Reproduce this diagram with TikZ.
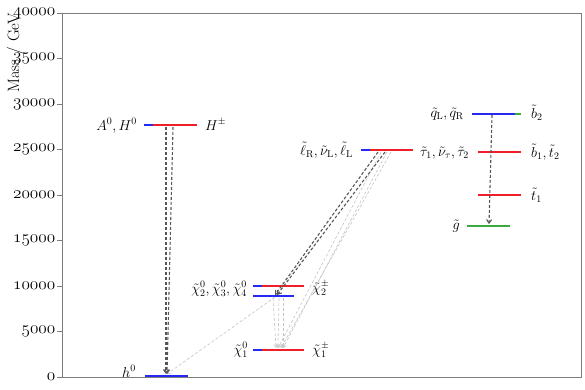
\documentclass[tikz,border=0pt]{standalone}
\usetikzlibrary{arrows.meta}
\definecolor{lvblue}{RGB}{40,40,245}
\definecolor{lvred}{RGB}{240,30,40}
\definecolor{lvgreen}{RGB}{60,170,60}
\definecolor{axgray}{RGB}{125,125,125}
\definecolor{darr}{RGB}{85,85,85}
\definecolor{larr}{RGB}{195,195,195}
\newcommand{\labfont}{\fontsize{14.5}{17}\selectfont}
\newcommand{\tk}[1]{{\fontencoding{OML}\fontfamily{cmm}\fontseries{m}\fontshape{it}\fontsize{17.28}{19}\selectfont #1}}
\begin{document}
\begin{tikzpicture}[x=1bp,y=-1bp,
  lev/.style={line width=1.4bp},
  bl/.style={lev,draw=lvblue}, rd/.style={lev,draw=lvred}, gr/.style={lev,draw=lvgreen},
  lab/.style={inner sep=0pt, font=\labfont},
  ticklab/.style={inner sep=0pt, anchor=east},
  tickmark/.style={draw=axgray, line width=0.8bp},
  darkarr/.style={draw=darr, line width=1.1bp, dash pattern=on 3bp off 2bp, -{Straight Barb[length=3.5bp,width=5bp]}},
  lightarr/.style={draw=larr, line width=0.6bp, dash pattern=on 3bp off 2bp, -{Straight Barb[length=3bp,width=4bp]}},
]
\useasboundingbox (0,0) rectangle (585,389);
% frame
\draw[axgray, line width=0.8bp] (62,13) -- (581,13) -- (581,377) -- (62,377) -- cycle;
\draw[tickmark] (57,377) -- (62,377);
\draw[tickmark] (57,331.5) -- (62,331.5);
\draw[tickmark] (57,286) -- (62,286);
\draw[tickmark] (57,240.5) -- (62,240.5);
\draw[tickmark] (57,195) -- (62,195);
\draw[tickmark] (57,149.5) -- (62,149.5);
\draw[tickmark] (57,104) -- (62,104);
\draw[tickmark] (57,58.5) -- (62,58.5);
\draw[tickmark] (57,13) -- (62,13);
\node[ticklab] (t0) at (55.5,377) {\tk{0}};
\node[ticklab] (t1) at (55.5,331.5) {\tk{5000}};
\node[ticklab] (t2) at (55.5,286) {\tk{10000}};
\node[ticklab] (t3) at (55.5,240.5) {\tk{15000}};
\node[ticklab] (t4) at (55.5,195) {\tk{20000}};
\node[ticklab] (t5) at (55.5,149.5) {\tk{25000}};
\node[ticklab] (t6) at (55.5,104) {\tk{30000}};
\node[ticklab] (t7) at (55.5,58.5) {\tk{35000}};
\node[ticklab] (t8) at (55.5,13) {\tk{40000}};
\node[inner sep=0pt, rotate=90, font=\fontsize{16.5}{18}\selectfont] (ylab) at (15,53) {Mass / GeV};

% ---- levels ----
% Higgs
\draw[bl] (144,125) coordinate (AHl) -- (188,125) coordinate (AHr);
\draw[rd] (153,125) coordinate (Hpl) -- (197,125) coordinate (Hpr);
\draw[bl] (145,376) coordinate (hl) -- (188,376) coordinate (hr);
% neutralinos / charginos
\draw[bl] (253,286) -- (297,286);
\draw[rd] (262,286) -- (304,286);
\draw[bl] (253,296) -- (294,296);
\draw[bl] (253,350) -- (295,350);
\draw[rd] (262,350) -- (304,350);
% sleptons
\draw[bl] (361,150) -- (404,150);
\draw[rd] (370,150) -- (413,150);
% squarks
\draw[gr] (477,114) -- (521,114);
\draw[lev, draw=lvblue, line width=2.6bp] (472,114) -- (515,114);
\draw[rd] (478,152) -- (521,152);
\draw[rd] (478,195) -- (521,195);
\draw[gr] (467,226) -- (510,226);

% ---- labels ----
\node[lab, anchor=base east] (lAH) at (137,130) {$A^0, H^0$};
\node[lab, anchor=base west] (lHp) at (205,130) {$H^\pm$};
\node[lab, anchor=base east] (lh) at (136,377) {$h^0$};
\node[lab, anchor=base east] (lN234) at (247,293) {$\tilde\chi^0_2, \tilde\chi^0_3, \tilde\chi^0_4$};
\node[lab, anchor=base west] (lC2) at (312,292) {$\tilde\chi^\pm_2$};
\node[lab, anchor=base east] (lN1) at (248,354) {$\tilde\chi^0_1$};
\node[lab, anchor=base west] (lC1) at (312,354) {$\tilde\chi^\pm_1$};
\node[lab, anchor=base east] (lsl) at (353,155) {$\tilde\ell_{\mathrm{R}}, \tilde\nu_{\mathrm{L}}, \tilde\ell_{\mathrm{L}}$};
\node[lab, anchor=base west] (ltau) at (420,156) {$\tilde\tau_1, \tilde\nu_\tau, \tilde\tau_2$};
\node[lab, anchor=base east] (lsq) at (464,117) {$\tilde q_{\mathrm{L}}, \tilde q_{\mathrm{R}}$};
\node[lab, anchor=base west] (lb2) at (531,118) {$\tilde b_2$};
\node[lab, anchor=base west] (lb1) at (531,157) {$\tilde b_1, \tilde t_2$};
\node[lab, anchor=base west] (lt1) at (531,200) {$\tilde t_1$};
\node[lab, anchor=base east] (lg) at (460,229) {$\tilde g$};

% ---- decay connectors ----
\coordinate (Hs1) at (166,127);
\coordinate (Hs2) at (173,127);
\coordinate (hT) at (166,374);
\coordinate (hT2) at (167,374);
\coordinate (N2s) at (275,297);
\coordinate (N2T) at (275,295);
\coordinate (N2T2) at (277,295);
\coordinate (sq) at (492,115);
\coordinate (gT) at (489,224);
\coordinate (sl1) at (378,152);
\coordinate (sl2) at (385,152);
\coordinate (sl3) at (381,152);
\coordinate (sl4) at (387,152);
\coordinate (sl5) at (391,152);
\coordinate (N1a) at (276,348);
\coordinate (N1b) at (278,348);
\coordinate (N1c) at (283,348);
\coordinate (N1d) at (281,348);
\coordinate (N2a) at (273,298);
\coordinate (N2b) at (279,298);
\coordinate (N2c) at (283,298);

\draw[lightarr] (N2s) -- (hT2);
\draw[lightarr] (N2a) -- (N1a);
\draw[lightarr] (N2b) -- (N1b);
\draw[lightarr] (N2c) -- (N1c);
\draw[lightarr] (sl3) -- (N1b);
\draw[lightarr] (sl4) -- (N1c);
\draw[lightarr] (sl5) -- (N1d);
\draw[darkarr] (Hs1) -- (hT);
\draw[darkarr] (Hs2) -- (hT2);
\draw[darkarr] (sl1) -- (N2T);
\draw[darkarr] (sl2) -- (N2T2);
\draw[darkarr] (sq) -- (gT);
\end{tikzpicture}
\end{document}
